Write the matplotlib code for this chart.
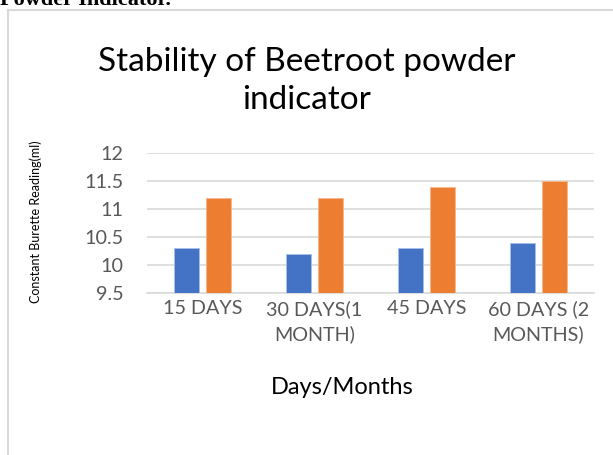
import numpy as np
import matplotlib.pyplot as plt
from matplotlib.lines import Line2D

# data
categories = ['15 DAYS', '30 DAYS(1\nMONTH)', '45 DAYS', '60 DAYS (2\nMONTHS)']
series_a = [10.3, 10.2, 10.3, 10.4]
series_b = [11.2, 11.2, 11.4, 11.5]
yticks = [9.5, 10, 10.5, 11, 11.5, 12]
ytick_labels = ['9.5', '10', '10.5', '11', '11.5', '12']

W, H = 613, 455
fig = plt.figure(figsize=(W / 100, H / 100), dpi=100)
plt.rcParams['font.family'] = ['Lato', 'DejaVu Sans']

def px(x, y):
    return x / W, 1 - y / H

# chart frame (only left and top edges are visible)
fig.add_artist(Line2D([8 / W, 8 / W], [0, 1 - 10 / H], color='#d9d9d9', lw=1.5))
fig.add_artist(Line2D([8 / W, 1], [1 - 10 / H, 1 - 10 / H], color='#d9d9d9', lw=1.5))

# heading from the document, cut off by the crop
fig.text(0 / W, 1 - 5 / H, 'Powder Indicator.', family='Liberation Serif',
         fontweight='bold', fontsize=16, va='baseline', ha='left')

ax = fig.add_axes([147 / W, 1 - 293 / H, (594 - 147) / W, (293 - 153) / H])

x = np.arange(len(categories))
w = 0.224
gap = 0.063
ax.bar(x - (w + gap) / 2, np.array(series_a) - 9.5, w, bottom=9.5,
       color='#4472C4', edgecolor='#a9bfe6', linewidth=0.6, zorder=3)
ax.bar(x + (w + gap) / 2, np.array(series_b) - 9.5, w, bottom=9.5,
       color='#ED7D31', edgecolor='#f5b88e', linewidth=0.6, zorder=3)

ax.set_xlim(-0.5, len(categories) - 0.5)
ax.set_ylim(9.5, 12)
ax.set_yticks(yticks)
ax.set_yticklabels(ytick_labels)
ax.set_xticks(x)
ax.set_xticklabels(categories, linespacing=1.5)
ax.tick_params(axis='both', length=0, labelsize=14.2, labelcolor='#595959')
ax.tick_params(axis='y', pad=17)
ax.tick_params(axis='x', pad=5)
ax.grid(axis='y', color='#d9d9d9', lw=1.2, zorder=0)
for s in ['top', 'right', 'left']:
    ax.spines[s].set_visible(False)
ax.spines['bottom'].set_color('#d9d9d9')
ax.spines['bottom'].set_linewidth(1.2)

fig.text(*px(307, 62), 'Stability of Beetroot powder', fontsize=24,
         ha='center', va='center', color='#000000')
fig.text(*px(307, 100), 'indicator', fontsize=24,
         ha='center', va='center', color='#000000')
fig.text(*px(36, 222), 'Constant Burette Reading(ml)', fontsize=9,
         rotation=90, ha='center', va='center')
fig.text(*px(342, 388), 'Days/Months', fontsize=17, ha='center', va='center')

fig.savefig('out.png', dpi=100)
